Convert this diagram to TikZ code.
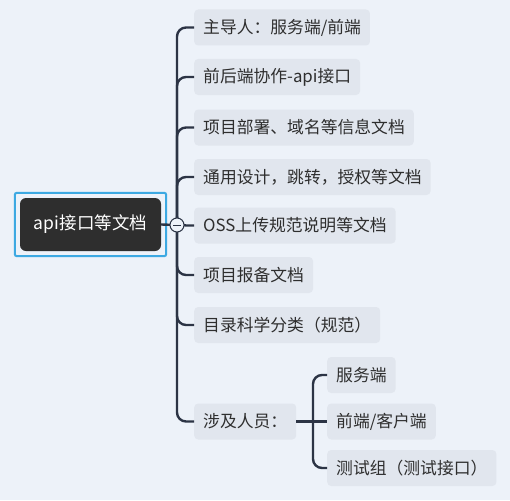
\documentclass[tikz,border=0pt]{standalone}
\usepackage{fontspec}
\setmainfont{Noto Sans CJK SC}
\usepackage{tikz}
\usetikzlibrary{calc, positioning}

\definecolor{bgcol}{HTML}{EDF2F9}
\definecolor{boxcol}{HTML}{E1E6EE}
\definecolor{linecol}{HTML}{2C3445}
\definecolor{rootcol}{HTML}{2E2E2E}
\definecolor{selcol}{HTML}{3DA9E2}
\definecolor{txtcol}{HTML}{2E2E2E}

\tikzset{
  topic/.style={fill=boxcol, rounded corners=4pt, text=txtcol, anchor=west,
    inner xsep=9pt, inner ysep=0pt, minimum height=36pt, font=\fontsize{16.8}{18}\selectfont},
  roottopic/.style={fill=rootcol, rounded corners=6pt, text=white,
    minimum width=141pt, minimum height=53pt, font=\fontsize{17.5}{19}\selectfont},
  branch/.style={draw=linecol, line width=2.4pt, rounded corners=9pt},
  fold/.style={circle, draw=linecol, fill=bgcol, line width=1pt, minimum size=14pt, inner sep=0pt}
}

\begin{document}
\begin{tikzpicture}[x=1pt, y=1pt]
  \fill[bgcol] (0,0) rectangle (510,-500);
  \useasboundingbox (0,0) rectangle (510,-500);

  % central topic
  \node[roottopic] (root) at (90.5,-224.5) {api接口等文档};
  \draw[selcol, line width=2pt, rounded corners=2pt]
    ([shift={(-5,5)}]root.north west) rectangle ([shift={(5,-5)}]root.south east);
  \coordinate (hub) at (177,-225);

  % main branches
  \node[topic] (c1) at (194,-27.5) {主导人：服务端/前端};
  \node[topic] (c2) at (194,-77) {前后端协作-api接口};
  \node[topic] (c3) at (194,-127.5) {项目部署、域名等信息文档};
  \node[topic] (c4) at (194,-177) {通用设计，跳转，授权等文档};
  \node[topic] (c5) at (194,-225.5) {OSS上传规范说明等文档};
  \node[topic] (c6) at (194,-275) {项目报备文档};
  \node[topic] (c7) at (194,-325) {目录科学分类（规范）};
  \node[topic] (c8) at (194,-421.5) {涉及人员：};

  % people
  \node[topic] (g1) at (327,-375) {服务端};
  \node[topic] (g2) at (327,-421.5) {前端/客户端};
  \node[topic] (g3) at (327,-468) {测试组（测试接口）};
  \coordinate (fork) at (313,-421.5);

  \foreach \c in {c1,c2,c3,c4,c5,c6,c7,c8}
    \draw[branch] (hub) |- (\c.west);
  \draw[branch] (root.east) -- (hub);
  \draw[branch] (c8.east) -- (g2.west);
  \draw[branch] (fork) |- (g1.west);
  \draw[branch] (fork) |- (g3.west);

  % collapse button
  \node[fold] (knob) at (hub) {};
  \draw[linecol, line width=1pt] ($(knob.center)+(-4,0)$) -- ($(knob.center)+(4,0)$);
\end{tikzpicture}
\end{document}
